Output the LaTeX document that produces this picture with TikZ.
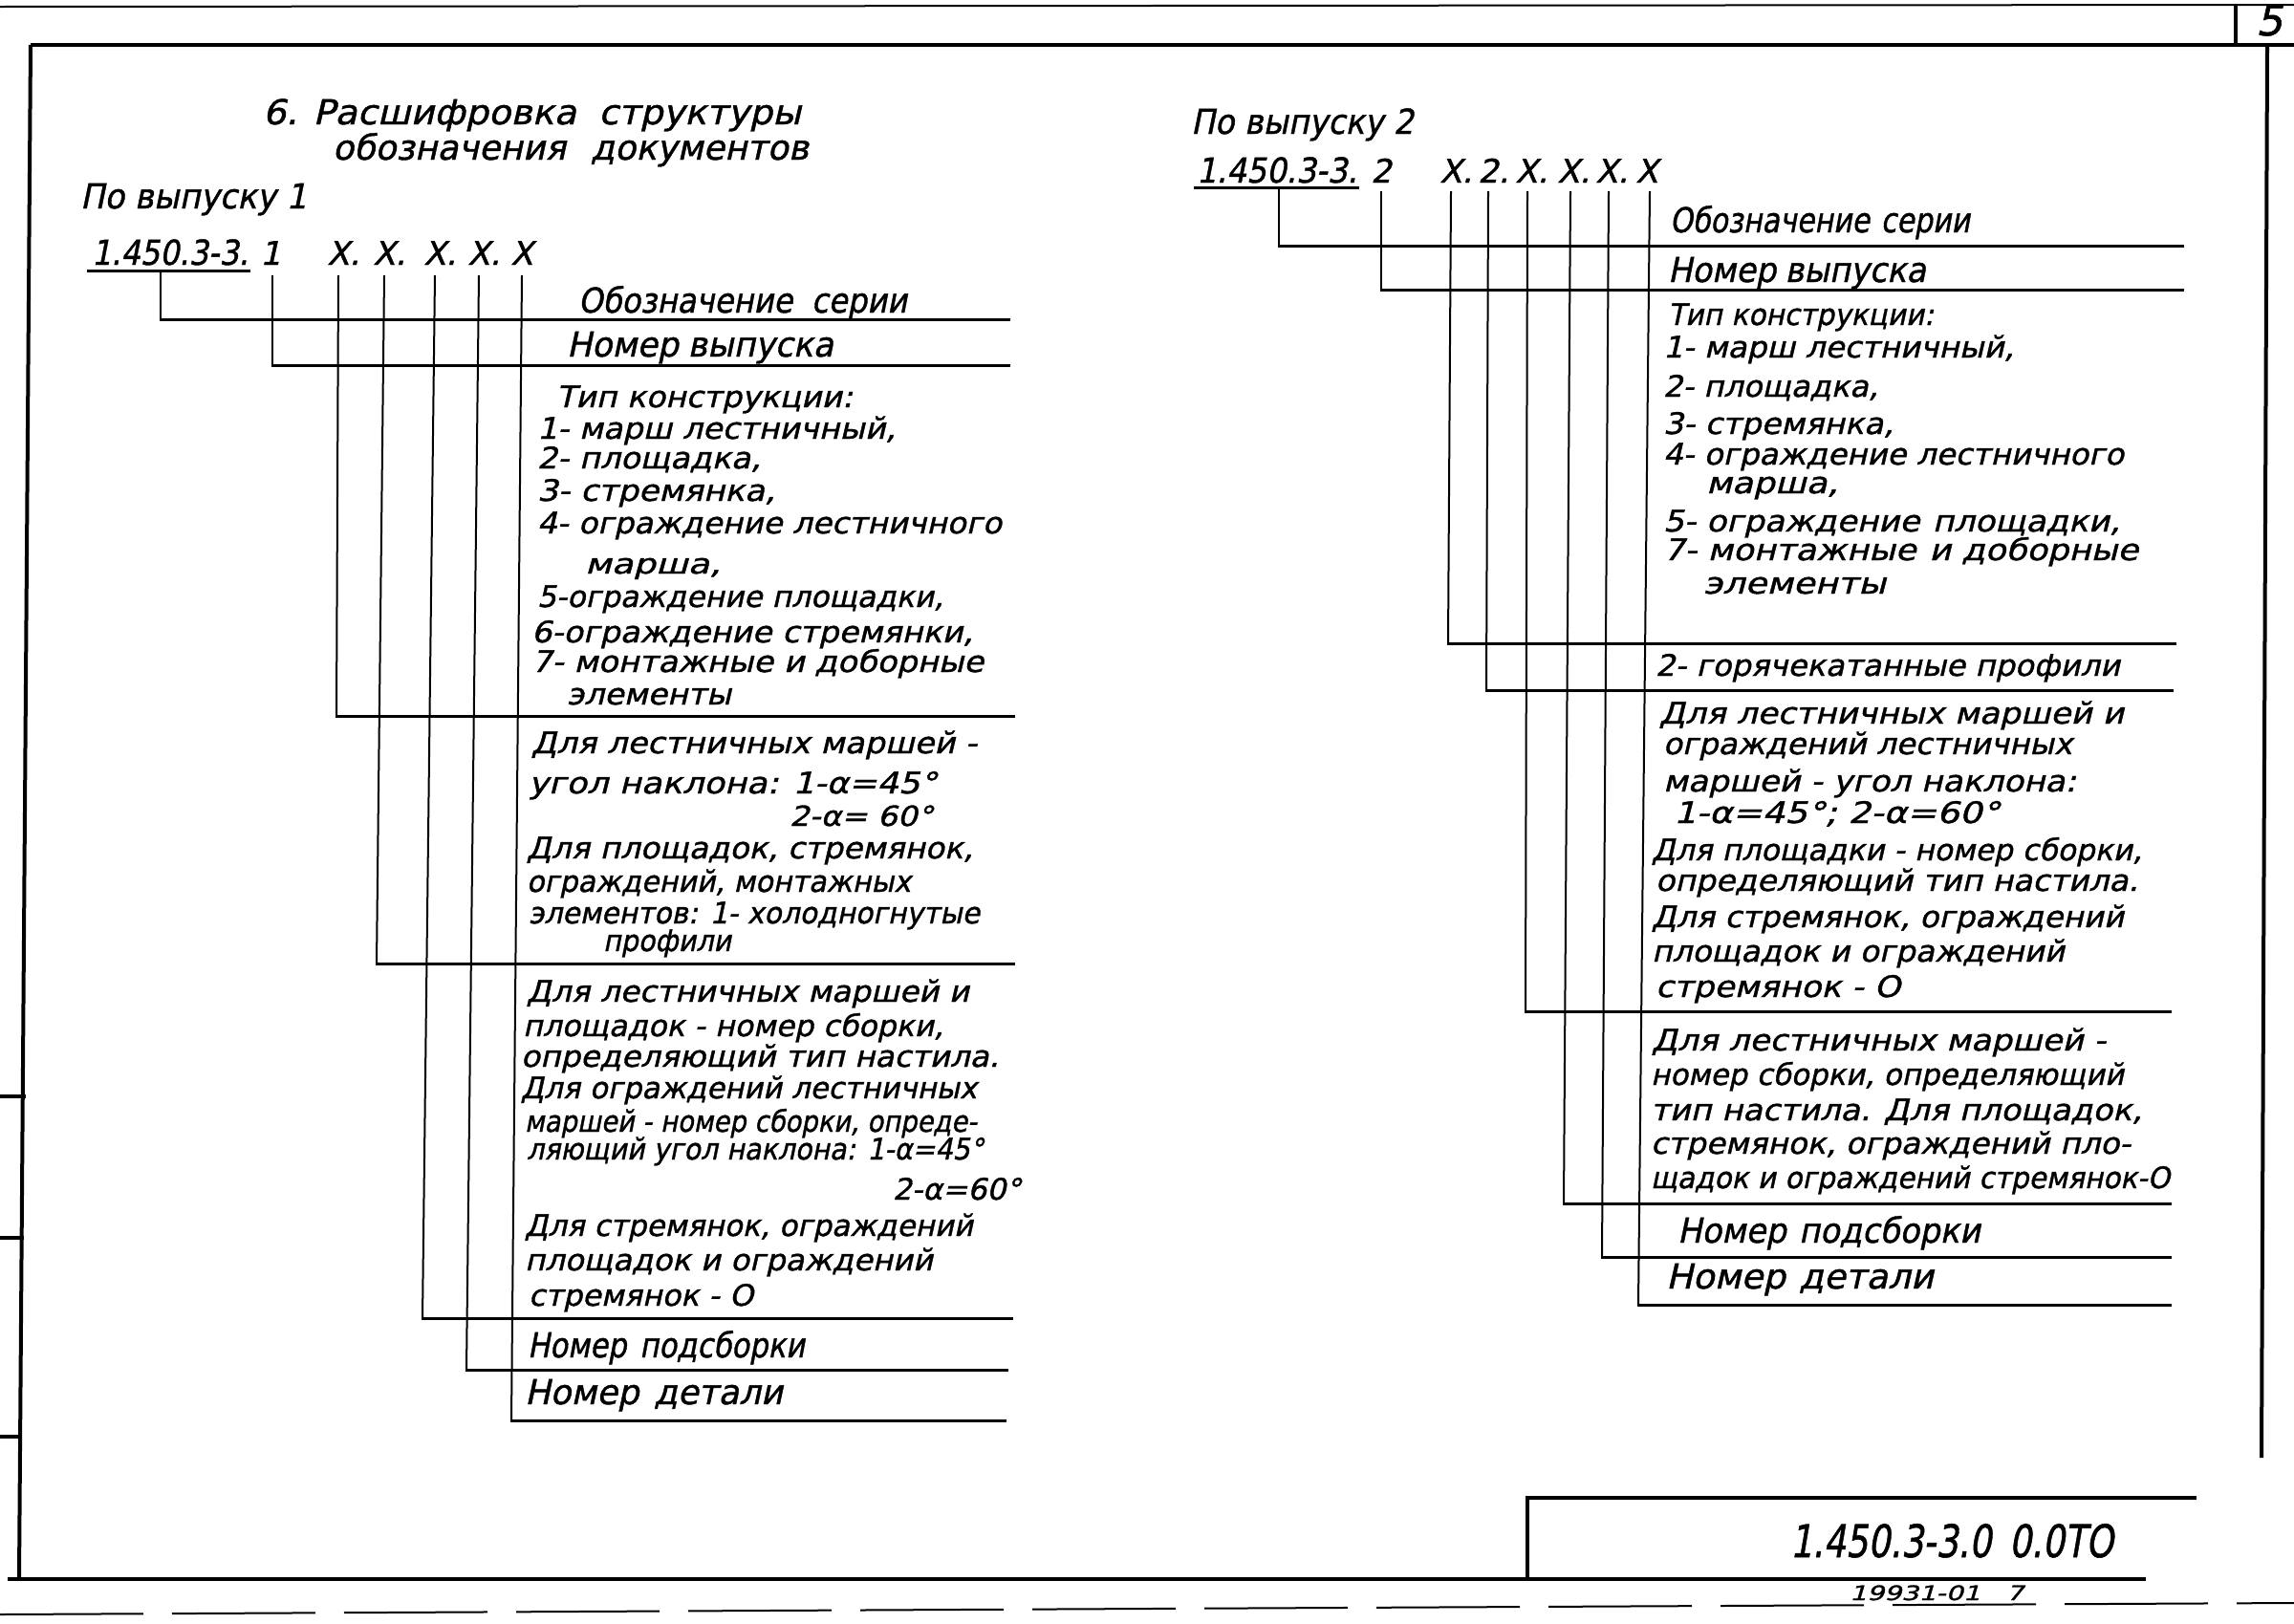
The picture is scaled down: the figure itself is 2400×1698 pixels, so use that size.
\documentclass[tikz,border=0pt]{standalone}
\usepackage{fontspec}
\usepackage{graphicx}
\newfontfamily\gost{DejaVu Sans}[FakeSlant=0.22, FakeBold=1.2]
\tikzset{
  every node/.style={inner sep=0pt, outer sep=0pt},
  txt/.style={anchor=base west, font=\gost\fontsize{31}{31}\selectfont},
  big/.style={anchor=base west, font=\gost\fontsize{36}{36}\selectfont},
  head/.style={anchor=base west, font=\gost\fontsize{36}{36}\selectfont},
  code/.style={anchor=base, font=\gost\fontsize{34}{34}\selectfont},
  codedot/.style={anchor=base west, font=\gost\fontsize{34}{34}\selectfont},
  frame/.style={line width=4pt},
  hl/.style={line width=3pt, line cap=rect},
  vl/.style={line width=2pt},
}
\newcommand\tline[6][txt]{\node[#1] (#2) at (#3,#4) {\resizebox{#5pt}{\height}{#6}};}
\newcommand\conn[6]{%
  \coordinate (#1t) at (#2,#3);
  \coordinate (#1b) at (#4,#5);
  \coordinate (#1e) at (#6,#5);
  \draw[vl] (#1t) -- (#1b);
  \draw[hl] (#1b) -- (#1e);}
\begin{document}
\begin{tikzpicture}[x=1pt,y=-1pt]
\useasboundingbox (0,0) rectangle (2400,1698);
\fill[white] (0,0) rectangle (2400,1698);

% ---------- sheet frame ----------
\draw[line width=2pt] (0,7) -- (2400,5);
\draw[frame] (32,47) -- (2400,47);
\draw[frame] (32,47) -- (20,1652);
\draw[frame] (8,1652) -- (2245,1652);
\draw[frame] (2372,47) -- (2366,1525);
\draw[frame] (2339,5) -- (2339,47);
\node[anchor=base, font=\gost\fontsize{44}{44}\selectfont] (pg) at (2374,37) {5};
\draw[frame] (0,1147) -- (27,1147);
\draw[frame] (0,1295) -- (25,1295);
\draw[frame] (0,1503) -- (22,1503);
\draw[line width=2pt, dash pattern=on 150pt off 30pt] (0,1689) -- (2400,1677);

% ---------- title block ----------
\draw[frame] (1598,1652) -- (1598,1567) -- (2298,1567);
\tline[anchor=base west, font=\gost\fontsize{47}{47}\selectfont]{tbcode}{1873}{1629}{338}{1.450.3-3.0\hspace{24pt}0.0ТО}
\tline[anchor=base west, font=\gost\fontsize{21}{21}\selectfont]{tbnum}{1935}{1674}{182}{19931-01\hspace{20pt}7}

% ---------- heading ----------
\tline[head]{hd1}{275}{130}{563}{6. Расшифровка\hspace{22pt}структуры}
\tline[head]{hd2}{348}{167}{498}{обозначения\hspace{26pt}документов}

% ================= Выпуск 1 =================
\tline[head]{v1}{84}{218}{237}{По выпуску 1}
\tline[big]{c1ser}{96}{277}{164}{1.450.3-3.}
\draw[hl] (92,283) -- (260,283);
\node[code] (c1n) at (283,277) {1};
\node[code] (c1x1) at (354,277) {X}; \node[codedot] (c1d1) at (c1x1.base east) {.};
\node[code] (c1x2) at (402,277) {X}; \node[codedot] (c1d2) at (c1x2.base east) {.};
\node[code] (c1x3) at (455,277) {X}; \node[codedot] (c1d3) at (c1x3.base east) {.};
\node[code] (c1x4) at (501,277) {X}; \node[codedot] (c1d4) at (c1x4.base east) {.};
\node[code] (c1x5) at (546,277) {X};

\conn{La}{168}{283}{168}{334}{1055}
\conn{Lb}{285}{288}{285}{382}{1055}
\conn{Lc}{354}{288}{352}{749}{1060}
\conn{Ld}{402}{288}{394}{1008}{1060}
\conn{Le}{455}{288}{442}{1379}{1058}
\conn{Lf}{501}{288}{488}{1433}{1053}
\conn{Lg}{546}{288}{535}{1486}{1051}

\tline[big]{Lser}{605}{327}{344}{Обозначение\hspace{22pt}серии}
\tline[big]{Lvyp}{593}{373}{279}{Номер\hspace{10pt}выпуска}
\tline{Ltip0}{582}{426}{310}{Тип\hspace{10pt}конструкции:}
\tline{Ltip1}{562}{459}{375}{1- марш лестничный,}
\tline{Ltip2}{562}{490}{234}{2- площадка,}
\tline{Ltip3}{562}{524}{249}{3- стремянка,}
\tline{Ltip4}{562}{558}{486}{4- ограждение лестничного}
\tline[anchor=base west, font=\gost\fontsize{29}{29}\selectfont]{Ltip4b}{612}{600}{142}{марша,}
\tline{Ltip5}{562}{635}{425}{5-ограждение площадки,}
\tline{Ltip6}{556}{672}{462}{6-ограждение\hspace{10pt}стремянки,}
\tline{Ltip7}{556}{703}{473}{7- монтажные\hspace{10pt}и доборные}
\tline{Ltip7b}{593}{737}{172}{элементы}

\tline{Lb2a}{556}{788}{466}{Для лестничных маршей -}
\tline{Lb2b}{553}{830}{427}{угол наклона: 1-α=45°}
\tline[anchor=base west, font=\gost\fontsize{29}{29}\selectfont]{Lb2c}{826}{864}{150}{2-α= 60°}
\tline{Lb2d}{551}{898}{467}{Для площадок, стремянок,}
\tline{Lb2e}{551}{933}{402}{ограждений, монтажных}
\tline{Lb2f}{553}{966}{472}{элементов: 1- холодногнутые}
\tline{Lb2g}{631}{995}{134}{профили}

\tline{Lb3a}{551}{1048}{463}{Для лестничных маршей и}
\tline{Lb3b}{547}{1084}{440}{площадок - номер сборки,}
\tline{Lb3c}{545}{1116}{500}{определяющий тип настила.}
\tline{Lb3d}{545}{1149}{477}{Для ограждений лестничных}
\tline{Lb3e}{549}{1184}{473}{маршей - номер сборки, опреде-}
\tline{Lb3f}{551}{1213}{478}{ляющий угол наклона: 1-α=45°}
\tline{Lb3g}{934}{1255}{134}{2-α=60°}
\tline{Lb3h}{549}{1293}{469}{Для стремянок, ограждений}
\tline{Lb3i}{549}{1329}{427}{площадок и ограждений}
\tline{Lb3j}{553}{1366}{235}{стремянок - О}
\tline[big]{Lpod}{552}{1420}{290}{Номер\hspace{16pt}подсборки}
\tline[big]{Ldet}{549}{1469}{270}{Номер\hspace{16pt}детали}

% ================= Выпуск 2 =================
\tline[head]{v2}{1246}{140}{233}{По выпуску 2}
\tline[big]{c2ser}{1252}{191}{168}{1.450.3-3.}
\draw[hl] (1250,196) -- (1420,196);
\node[code] (c2n) at (1445,191) {2};
\node[code] (c2x1) at (1518,191) {X}; \node[codedot] (c2d1) at (c2x1.base east) {.};
\node[code] (c2x2) at (1557,191) {2}; \node[codedot] (c2d2) at (c2x2.base east) {.};
\node[code] (c2x3) at (1597,191) {X}; \node[codedot] (c2d3) at (c2x3.base east) {.};
\node[code] (c2x4) at (1641,191) {X}; \node[codedot] (c2d4) at (c2x4.base east) {.};
\node[code] (c2x5) at (1681,191) {X}; \node[codedot] (c2d5) at (c2x5.base east) {.};
\node[code] (c2x6) at (1723,191) {X};

\conn{Ra}{1338}{196}{1338}{257}{2283}
\conn{Rb}{1445}{200}{1445}{303}{2283}
\conn{Rc}{1518}{200}{1515}{673}{2275}
\conn{Rd}{1557}{200}{1555}{722}{2272}
\conn{Re}{1598}{200}{1596}{1058}{2270}
\conn{Rf}{1643}{200}{1636}{1259}{2270}
\conn{Rg}{1683}{200}{1676}{1315}{2270}
\conn{Rh}{1726}{200}{1714}{1365}{2270}

\tline[big]{Rser}{1747}{243}{314}{Обозначение\hspace{14pt}серии}
\tline[big]{Rvyp}{1745}{295}{270}{Номер\hspace{10pt}выпуска}
\tline{Rtip0}{1745}{340}{278}{Тип\hspace{10pt}конструкции:}
\tline{Rtip1}{1740}{374}{367}{1- марш лестничный,}
\tline{Rtip2}{1740}{415}{225}{2- площадка,}
\tline{Rtip3}{1740}{454}{241}{3- стремянка,}
\tline{Rtip4}{1740}{486}{482}{4- ограждение\hspace{10pt}лестничного}
\tline{Rtip4b}{1785}{516}{138}{марша,}
\tline{Rtip5}{1740}{556}{478}{5- ограждение\hspace{12pt}площадки,}
\tline{Rtip7}{1740}{586}{497}{7- монтажные\hspace{12pt}и доборные}
\tline{Rtip7b}{1782}{621}{191}{элементы}
\tline{Rgor}{1732}{707}{486}{2- горячекатанные профили}
\tline{Rb3a}{1736}{757}{486}{Для лестничных маршей и}
\tline{Rb3b}{1740}{789}{428}{ограждений лестничных}
\tline{Rb3c}{1740}{828}{432}{маршей - угол наклона:}
\tline{Rb3d}{1751}{861}{341}{1-α=45°; 2-α=60°}
\tline{Rb3e}{1728}{900}{513}{Для площадки - номер сборки,}
\tline{Rb3f}{1732}{932}{505}{определяющий тип настила.}
\tline{Rb3g}{1728}{970}{494}{Для стремянок, ограждений}
\tline{Rb3h}{1728}{1006}{432}{площадок и ограждений}
\tline{Rb3i}{1732}{1043}{256}{стремянок - О}
\tline{Rb4a}{1728}{1099}{475}{Для лестничных маршей -}
\tline{Rb4b}{1727}{1135}{495}{номер сборки, определяющий}
\tline{Rb4c}{1727}{1172}{514}{тип настила. Для площадок,}
\tline{Rb4d}{1727}{1207}{502}{стремянок, ограждений пло-}
\tline{Rb4e}{1727}{1243}{543}{щадок и ограждений стремянок-О}
\tline[big]{Rpod}{1755}{1300}{317}{Номер\hspace{14pt}подсборки}
\tline[big]{Rdet}{1743}{1348}{280}{Номер\hspace{14pt}детали}
\end{tikzpicture}
\end{document}
